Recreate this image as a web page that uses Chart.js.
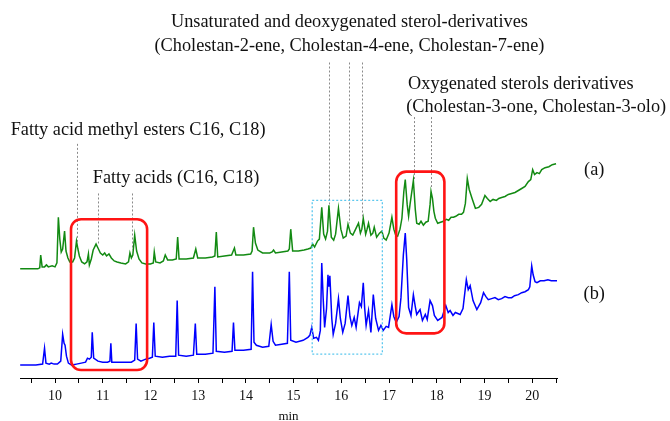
<!DOCTYPE html>
<html>
<head>
<meta charset="utf-8">
<script src="https://cdn.jsdelivr.net/npm/chart.js@4.4.1/dist/chart.umd.min.js"></script>
<style>
  html, body { margin: 0; padding: 0; background: #fff; }
</style>
</head>
<body>
<canvas id="gcChart" width="670" height="421"></canvas>
<script>
// retention time (min) and detector signal
const timesA = [9.27, 9.64, 9.68, 9.70, 9.73, 9.78, 9.82, 9.86, 9.94, 10.00, 10.04, 10.07, 10.10, 10.13, 10.16, 10.20, 10.23, 10.27, 10.31, 10.37,
  10.41, 10.45, 10.48, 10.51, 10.56, 10.62, 10.67, 10.70, 10.72, 10.76, 10.80, 10.86, 10.90, 10.95, 11.00, 11.04, 11.08, 11.13, 11.18, 11.24,
  11.30, 11.38, 11.48, 11.54, 11.57, 11.60, 11.63, 11.67, 11.71, 11.76, 11.82, 11.90, 12.00, 12.06, 12.08, 12.11, 12.20, 12.27, 12.31, 12.36,
  12.46, 12.54, 12.57, 12.60, 12.75, 12.90, 12.95, 12.99, 13.15, 13.30, 13.35, 13.38, 13.41, 13.55, 13.70, 13.76, 13.79, 13.95, 14.10, 14.13,
  14.16, 14.20, 14.25, 14.35, 14.50, 14.55, 14.58, 14.62, 14.75, 14.88, 14.91, 14.94, 14.98, 15.10, 15.22, 15.30, 15.36, 15.40, 15.44, 15.50,
  15.54, 15.59, 15.63, 15.67, 15.71, 15.74, 15.79, 15.84, 15.88, 15.94, 15.99, 16.04, 16.10, 16.14, 16.19, 16.24, 16.29, 16.36, 16.40, 16.43,
  16.46, 16.51, 16.54, 16.57, 16.62, 16.66, 16.69, 16.74, 16.80, 16.85, 16.89, 16.94, 17.00, 17.06, 17.10, 17.14, 17.18, 17.23, 17.27, 17.31,
  17.34, 17.38, 17.41, 17.44, 17.51, 17.55, 17.58, 17.63, 17.67, 17.72, 17.77, 17.82, 17.86, 17.88, 17.91, 17.94, 17.97, 18.02, 18.08, 18.14,
  18.20, 18.25, 18.30, 18.35, 18.40, 18.46, 18.52, 18.56, 18.60, 18.64, 18.68, 18.74, 18.81, 18.88, 18.94, 19.01, 19.06, 19.12, 19.18, 19.25,
  19.30, 19.36, 19.43, 19.50, 19.57, 19.64, 19.71, 19.78, 19.85, 19.92, 19.97, 20.01, 20.05, 20.10, 20.15, 20.20, 20.27, 20.35, 20.42, 20.50];
const signalA = [110, 110, 111, 124, 112, 112, 114, 112, 113, 112, 116, 162, 140, 127, 130, 148, 128, 121, 117, 117,
  121, 138, 130, 123, 117, 115, 117, 125, 114, 120, 129, 135, 131, 126, 124, 126, 123, 125, 121, 118,
  117, 116, 115, 117, 126, 121, 124, 144, 128, 120, 116, 115, 115, 116, 127, 117, 116, 118, 124, 119,
  119, 120, 142, 120, 120, 121, 130, 121, 121, 122, 123, 147, 122, 123, 124, 131, 124, 124, 125, 128,
  152, 136, 129, 126, 126, 127, 129, 126, 127, 128, 130, 150, 128, 128, 129, 130, 131, 135, 132, 138,
  140, 172, 145, 140, 148, 174, 142, 139, 145, 171, 150, 141, 143, 155, 146, 144, 149, 156, 146, 150,
  161, 145, 150, 156, 144, 146, 152, 142, 146, 148, 141, 139, 146, 162, 150, 144, 143, 150, 161, 188,
  200, 175, 163, 175, 199, 170, 156, 155, 158, 154, 157, 158, 175, 188, 181, 168, 161, 156, 157, 158,
  160, 159, 162, 162, 163, 165, 165, 167, 176, 201, 190, 181, 171, 172, 175, 184, 181, 178, 180, 179,
  181, 182, 183, 185, 186, 187, 189, 191, 193, 198, 200, 210, 205, 207, 206, 210, 212, 213, 215, 216];

const timesB = [9.27, 9.60, 9.74, 9.78, 9.81, 9.88, 9.92, 9.98, 10.05, 10.12, 10.16, 10.19, 10.21, 10.24, 10.28, 10.35, 10.45, 10.55, 10.64, 10.68,
  10.72, 10.76, 10.78, 10.81, 10.90, 11.00, 11.10, 11.15, 11.17, 11.19, 11.30, 11.45, 11.60, 11.67, 11.70, 11.73, 11.80, 11.90, 11.98, 12.04,
  12.07, 12.10, 12.25, 12.40, 12.53, 12.56, 12.59, 12.75, 12.90, 12.94, 12.97, 13.15, 13.31, 13.35, 13.38, 13.55, 13.71, 13.74, 13.77, 13.95,
  14.11, 14.14, 14.17, 14.22, 14.35, 14.48, 14.53, 14.57, 14.62, 14.75, 14.87, 14.91, 14.94, 15.05, 15.20, 15.30, 15.34, 15.38, 15.42, 15.48,
  15.52, 15.56, 15.59, 15.62, 15.65, 15.69, 15.72, 15.74, 15.76, 15.80, 15.83, 15.88, 15.94, 15.98, 16.03, 16.08, 16.14, 16.18, 16.22, 16.27,
  16.31, 16.38, 16.42, 16.46, 16.49, 16.52, 16.57, 16.62, 16.67, 16.72, 16.78, 16.83, 16.88, 16.94, 16.99, 17.06, 17.10, 17.15, 17.21, 17.25,
  17.30, 17.34, 17.37, 17.41, 17.46, 17.51, 17.55, 17.58, 17.65, 17.70, 17.76, 17.80, 17.86, 17.91, 17.95, 18.02, 18.11, 18.15, 18.19, 18.24,
  18.28, 18.34, 18.39, 18.49, 18.55, 18.62, 18.66, 18.70, 18.76, 18.84, 18.92, 18.98, 19.03, 19.08, 19.15, 19.22, 19.29, 19.36, 19.43, 19.50,
  19.57, 19.63, 19.71, 19.78, 19.85, 19.92, 19.95, 19.99, 20.02, 20.06, 20.10, 20.17, 20.25, 20.33, 20.40, 20.52];
const signalB = [13, 13, 14, 30, 15, 14, 15, 14, 14, 17, 44, 35, 33, 22, 15, 13, 14, 15, 16, 20,
  19, 21, 46, 20, 17, 16, 16, 17, 35, 16, 16, 16, 16, 18, 55, 19, 17, 19, 20, 21,
  56, 22, 21, 22, 22, 78, 23, 22, 23, 55, 24, 24, 25, 92, 27, 26, 27, 56, 28, 28,
  29, 107, 36, 33, 31, 32, 54, 37, 33, 34, 35, 107, 38, 36, 38, 41, 43, 51, 40, 41,
  38, 48, 116, 80, 51, 70, 104, 92, 103, 60, 44, 55, 80, 60, 46, 55, 83, 62, 53, 61,
  51, 76, 72, 96, 70, 53, 68, 46, 84, 60, 48, 53, 48, 52, 51, 74, 62, 56, 62, 81,
  124, 146, 120, 71, 63, 84, 72, 64, 69, 58, 64, 59, 78, 73, 63, 58, 61, 67, 73, 66,
  68, 63, 66, 64, 70, 99, 89, 93, 78, 69, 76, 86, 82, 79, 80, 81, 79, 80, 82, 81,
  81, 83, 84, 86, 87, 89, 92, 113, 104, 97, 96, 98, 98, 99, 98, 98];

// annotation boxes [tStart, tEnd, signalTop, signalBottom]
const redBoxes = [[10.335, 11.93, 160, 8], [17.15, 18.16, 208, 45]];
const cyanBox = [15.39, 16.86, 179, 24];
// dashed guide lines [time, signalTop, signalBottom]
const guideLines = [[10.47, 236, 136], [10.91, 186, 135], [11.61, 186, 129],
  [15.75, 318, 175], [16.16, 318, 156], [16.44, 318, 162],
  [17.52, 263, 199], [17.87, 263, 191]];
// labels [text, time, signal, align]
const labels = [
  ['Unsaturated and deoxygenated sterol-derivatives', 16.17, 359, 'center'],
  ['(Cholestan-2-ene, Cholestan-4-ene, Cholestan-7-ene)', 16.17, 334, 'center'],
  ['Oxygenated sterols derivatives', 17.40, 296, 'left'],
  ['(Cholestan-3-one, Cholestan-3-olo)', 17.36, 272.5, 'left'],
  ['Fatty acid methyl esters C16, C18)', 9.07, 249.5, 'left'],
  ['Fatty acids (C16, C18)', 10.79, 201, 'left'],
  ['(a)', 21.30, 209, 'center'],
  ['(b)', 21.30, 84, 'center']
];

const serif = '"Liberation Serif", "DejaVu Serif", serif';

const annotate = {
  id: 'annotate',
  afterDatasetsDraw(chart) {
    const ctx = chart.ctx;
    const x = chart.scales.x, y = chart.scales.y;
    ctx.save();

    // dashed gray guides
    ctx.strokeStyle = '#8a8a8a';
    ctx.lineWidth = 1;
    ctx.setLineDash([2, 2]);
    guideLines.forEach(g => {
      const px = Math.round(x.getPixelForValue(g[0])) + 0.5;
      ctx.beginPath();
      ctx.moveTo(px, y.getPixelForValue(g[1]));
      ctx.lineTo(px, y.getPixelForValue(g[2]));
      ctx.stroke();
    });

    // dotted cyan box
    ctx.strokeStyle = '#5cc8ee';
    ctx.lineWidth = 1.3;
    ctx.setLineDash([2, 2]);
    const cx0 = x.getPixelForValue(cyanBox[0]), cx1 = x.getPixelForValue(cyanBox[1]);
    const cy0 = y.getPixelForValue(cyanBox[2]), cy1 = y.getPixelForValue(cyanBox[3]);
    ctx.strokeRect(cx0, cy0, cx1 - cx0, cy1 - cy0);

    // red rounded boxes
    ctx.setLineDash([]);
    ctx.strokeStyle = '#ff1414';
    ctx.lineWidth = 2.6;
    redBoxes.forEach(b => {
      const x0 = x.getPixelForValue(b[0]), x1 = x.getPixelForValue(b[1]);
      const y0 = y.getPixelForValue(b[2]), y1 = y.getPixelForValue(b[3]);
      ctx.beginPath();
      ctx.roundRect(x0, y0, x1 - x0, y1 - y0, 10);
      ctx.stroke();
    });

    // text
    ctx.fillStyle = '#111';
    ctx.font = '18.3px ' + serif;
    ctx.textBaseline = 'middle';
    labels.forEach(l => {
      ctx.textAlign = l[3];
      ctx.fillText(l[0], x.getPixelForValue(l[1]), y.getPixelForValue(l[2]));
    });
    ctx.restore();
  }
};

new Chart(document.getElementById('gcChart'), {
  type: 'line',
  data: {
    datasets: [
      {
        label: '(a)',
        data: timesA.map((t, i) => ({ x: t, y: signalA[i] })),
        borderColor: '#128a12',
        borderWidth: 1.5,
        pointRadius: 0,
        tension: 0
      },
      {
        label: '(b)',
        data: timesB.map((t, i) => ({ x: t, y: signalB[i] })),
        borderColor: '#0000ff',
        borderWidth: 1.5,
        pointRadius: 0,
        tension: 0
      }
    ]
  },
  options: {
    responsive: false,
    animation: false,
    devicePixelRatio: 1,
    layout: { padding: { left: 20, right: 113, top: 0, bottom: -2 } },
    plugins: {
      legend: { display: false },
      tooltip: { enabled: false }
    },
    scales: {
      x: {
        type: 'linear',
        min: 9.266,
        max: 20.52,
        border: { display: true, color: '#000', width: 1 },
        grid: { drawOnChartArea: false, tickLength: 5, color: '#000' },
        ticks: {
          stepSize: 0.5,
          includeBounds: false,
          autoSkip: false,
          maxRotation: 0,
          padding: 6.5,
          color: '#111',
          font: { family: serif, size: 14, lineHeight: 1.0 },
          callback: v => (Number.isInteger(v) ? String(v) : '')
        },
        title: {
          display: true,
          text: 'min',
          color: '#111',
          font: { family: serif, size: 13, lineHeight: 1.0 },
          padding: { top: 0, bottom: 0 }
        }
      },
      y: {
        display: false,
        min: 0,
        max: 381
      }
    }
  },
  plugins: [annotate]
});
</script>
</body>
</html>
